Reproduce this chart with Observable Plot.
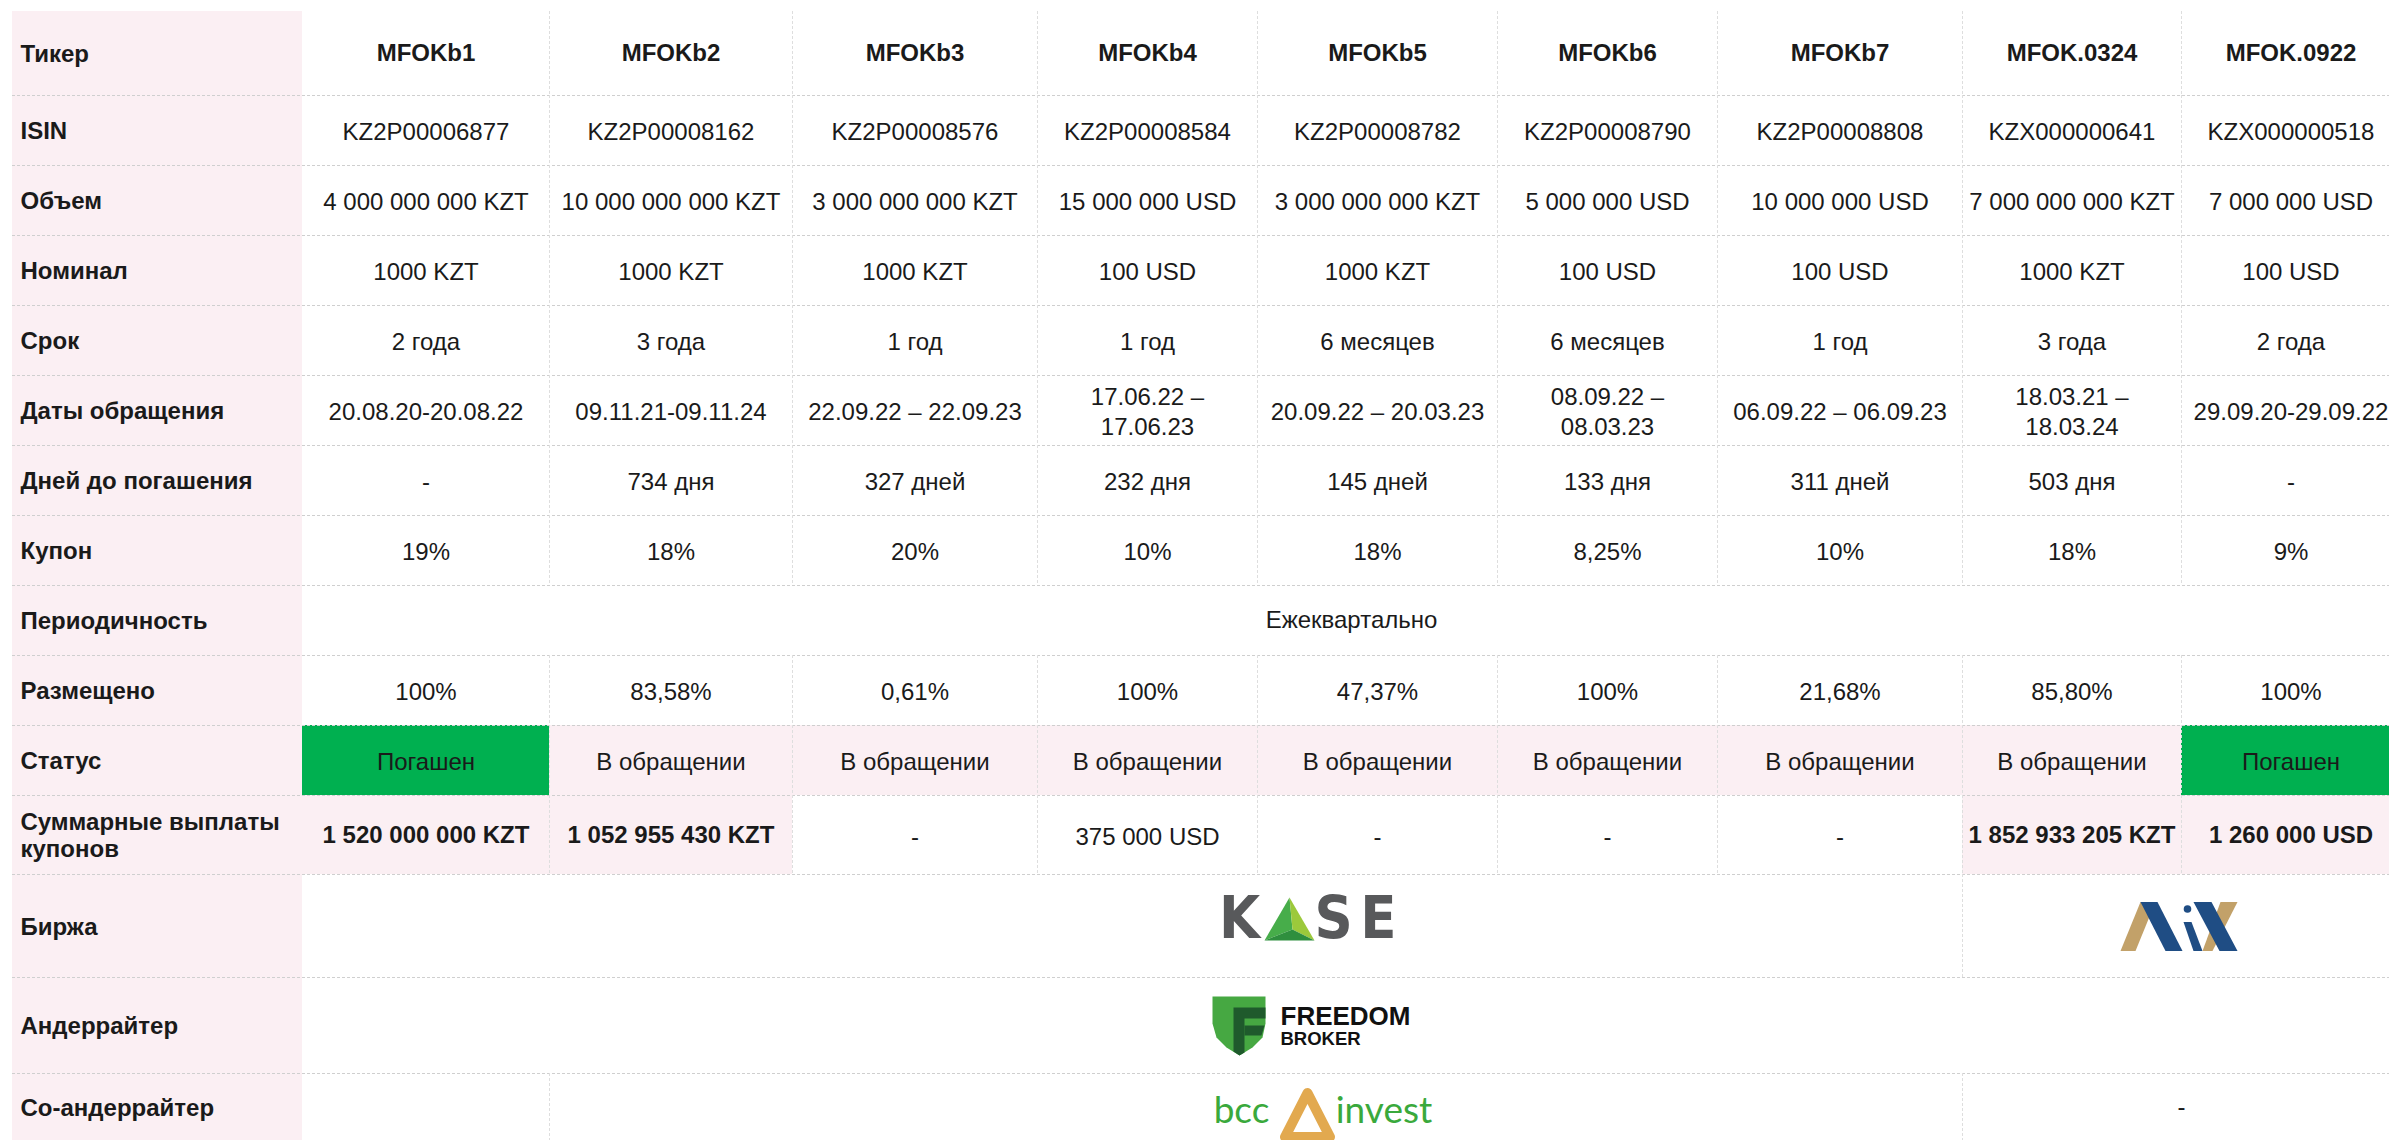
<!DOCTYPE html>
<html>
<head>
<meta charset="utf-8">
<script src="https://cdn.jsdelivr.net/npm/d3@7"></script>
<script src="https://cdn.jsdelivr.net/npm/@observablehq/plot@0.6"></script>
<style>
  html, body { margin: 0; padding: 0; background: #fff; overflow: hidden; }
  #chart svg { display: block; }
</style>
</head>
<body>
<div id="chart"></div>
<script>
// ---------------- DATA ----------------
const rowLabels = ["Тикер", "ISIN", "Объем", "Номинал", "Срок", "Даты обращения", "Дней до погашения",
  "Купон", "Периодичность", "Размещено", "Статус", "Суммарные выплаты\nкупонов", "Биржа", "Андеррайтер", "Со-андеррайтер"];
const tickers = ["MFOKb1", "MFOKb2", "MFOKb3", "MFOKb4", "MFOKb5", "MFOKb6", "MFOKb7", "MFOK.0324", "MFOK.0922"];
const isin = ["KZ2P00006877", "KZ2P00008162", "KZ2P00008576", "KZ2P00008584", "KZ2P00008782", "KZ2P00008790", "KZ2P00008808", "KZX000000641", "KZX000000518"];
const volume = ["4 000 000 000 KZT", "10 000 000 000 KZT", "3 000 000 000 KZT", "15 000 000 USD", "3 000 000 000 KZT", "5 000 000 USD", "10 000 000 USD", "7 000 000 000 KZT", "7 000 000 USD"];
const nominal = ["1000 KZT", "1000 KZT", "1000 KZT", "100 USD", "1000 KZT", "100 USD", "100 USD", "1000 KZT", "100 USD"];
const term = ["2 года", "3 года", "1 год", "1 год", "6 месяцев", "6 месяцев", "1 год", "3 года", "2 года"];
const circulationDates = ["20.08.20-20.08.22", "09.11.21-09.11.24", "22.09.22 – 22.09.23", "17.06.22 –\n17.06.23", "20.09.22 – 20.03.23", "08.09.22 –\n08.03.23", "06.09.22 – 06.09.23", "18.03.21 –\n18.03.24", "29.09.20-29.09.22"];
const daysToMaturity = ["-", "734 дня", "327 дней", "232 дня", "145 дней", "133 дня", "311 дней", "503 дня", "-"];
const coupon = ["19%", "18%", "20%", "10%", "18%", "8,25%", "10%", "18%", "9%"];
const periodicity = "Ежеквартально";
const placed = ["100%", "83,58%", "0,61%", "100%", "47,37%", "100%", "21,68%", "85,80%", "100%"];
const status = ["Погашен", "В обращении", "В обращении", "В обращении", "В обращении", "В обращении", "В обращении", "В обращении", "Погашен"];
const couponPaymentsTotal = ["1 520 000 000 KZT", "1 052 955 430 KZT", "-", "375 000 USD", "-", "-", "-", "1 852 933 205 KZT", "1 260 000 USD"];
const couponPaymentsHighlighted = [true, true, false, false, false, false, false, true, true];
const exchange = [{name: "KASE", first: 0, last: 6}, {name: "AIX", first: 7, last: 8}];
const underwriter = [{name: "Freedom Broker", first: 0, last: 8}];
const coUnderwriter = [{name: "", first: 0, last: 0}, {name: "bcc invest", first: 1, last: 6}, {name: "-", first: 7, last: 8}];

// ---------------- LAYOUT ----------------
const W = 2389, H = 1140;
const tableLeft = 12, tableTop = 11;
const labelColWidth = 290;
const dataColWidths = [247, 243, 245, 220, 240, 220, 245, 219, 219];
const rowHeights = [84, 70, 70, 70, 70, 70, 70, 70, 70, 70, 70, 79, 103, 96, 77];
const FS = 24;
const PINK = "#fbeff3", GREEN = "#00b050", INK = "#1a1a1a", GRID = "#cfcfcf";

const colEdges = [tableLeft, tableLeft + labelColWidth];
dataColWidths.forEach(w => colEdges.push(colEdges[colEdges.length - 1] + w));
const rowEdges = [tableTop];
rowHeights.forEach(h => rowEdges.push(rowEdges[rowEdges.length - 1] + h));
const colX1 = c => colEdges[c + 1], colX2 = c => colEdges[c + 2];
const colMid = c => (colX1(c) + colX2(c)) / 2;
const spanMid = (a, b) => (colX1(a) + colX2(b)) / 2;
const rowMid = r => (rowEdges[r] + Math.min(rowEdges[r + 1], H)) / 2;

// per-column rows
const perColumnRows = [
  {row: 0, values: tickers, weight: "bold"},
  {row: 1, values: isin},
  {row: 2, values: volume},
  {row: 3, values: nominal},
  {row: 4, values: term},
  {row: 5, values: circulationDates},
  {row: 6, values: daysToMaturity},
  {row: 7, values: coupon},
  {row: 9, values: placed},
  {row: 10, values: status},
  {row: 11, values: couponPaymentsTotal, weightOf: i => couponPaymentsHighlighted[i] ? "bold" : "normal"}
];
const cells = [];
perColumnRows.forEach(r => r.values.forEach((v, i) => cells.push({
  row: r.row, col: i, text: v,
  weight: r.weightOf ? r.weightOf(i) : (r.weight || "normal")
})));
const cellsBold = cells.filter(d => d.weight === "bold");
const cellsNormal = cells.filter(d => d.weight !== "bold");

// backgrounds
const bgCells = [];
status.forEach((s, i) => bgCells.push({row: 10, col: i, fill: s === "Погашен" ? GREEN : PINK}));
couponPaymentsHighlighted.forEach((h, i) => { if (h) bgCells.push({row: 11, col: i, fill: PINK}); });

// grid lines
const hLines = rowEdges.slice(1, rowEdges.length - 1).map(y => ({y}));
const vSegs = [];
const fullRows = [0, 1, 2, 3, 4, 5, 6, 7, 9, 10, 11];
fullRows.forEach(r => { for (let c = 1; c < dataColWidths.length; c++) vSegs.push({x: colX1(c), r}); });
exchange.slice(1).forEach(s => vSegs.push({x: colX1(s.first), r: 12}));
coUnderwriter.slice(1).forEach(s => vSegs.push({x: colX1(s.first), r: 14}));

// spanned text
const spanTexts = [{row: 8, first: 0, last: 8, text: periodicity}];
coUnderwriter.filter(s => s.name === "-").forEach(s => spanTexts.push({row: 14, first: s.first, last: s.last, text: s.name}));

// ---------------- LOGOS (shape geometry in local px) ----------------
const kaseSpan = exchange[0], aixSpan = exchange[1], ffSpan = underwriter[0], bccSpan = coUnderwriter[1];
const kaseC = {x: spanMid(kaseSpan.first, kaseSpan.last) + 178, y: rowMid(12) - 7};
const aixC = {x: spanMid(aixSpan.first, aixSpan.last) - 3, y: rowMid(12)};
const ffC = {x: spanMid(ffSpan.first, ffSpan.last) - 38, y: rowMid(13)};
const bccC = {x: spanMid(bccSpan.first, bccSpan.last) + 66, y: rowMid(14)};

function shapes(center, list) {
  const pts = [];
  list.forEach((s, k) => s.pts.forEach(p => pts.push({id: k, fill: s.fill, x: center.x + p[0], y: center.y + p[1]})));
  return pts;
}
function polys(center, list) {
  return list.map(s => Plot.line(shapes(center, [s]), {
    x: "x", y: "y", z: "id", fill: s.fill, stroke: s.stroke || "none",
    strokeWidth: s.sw || 0, strokeLinejoin: "round", curve: "linear-closed"
  }));
}
const kaseTriangle = [
  {fill: "#47ad4a", pts: [[-21, -21.5], [-46, 21.5], [-18, 10.5]]},
  {fill: "#9cc93b", pts: [[-21, -21.5], [-18, 10.5], [4, 21.5]]},
  {fill: "#2f8f3e", pts: [[-46, 21.5], [-18, 10.5], [4, 21.5]]}
];
const kaseLetters = [{t: "K", dx: -71}, {t: "S", dx: 23}, {t: "E", dx: 68}];
const aixShapes = [
  {fill: "#c2a169", pts: [[-58, 25], [-43, 25], [-23, -24], [-38, -24]]},
  {fill: "#1f4d84", pts: [[-38, -24], [-21, -24], [4, 25], [-13, 25]]},
  {fill: "#1f4d84", pts: [[5, -4], [13, -4], [24, 25], [15, 25]]},
  {fill: "#c2a169", pts: [[42, -24], [59, -24], [34, 25], [24, 25]]},
  {fill: "#1f4d84", pts: [[15, -24], [33, -24], [59, 25], [41, 25]]}
];
const ffShapes = [
  {fill: "#46a842", pts: [[-101, -29], [-48, -29], [-48, -2], [-51, 12], [-61, 22], [-74, 30], [-87, 22], [-97, 12], [-101, -2]]},
  {fill: "#1f5a2c", pts: [[-80, -18], [-48, -18], [-48, -7], [-69, -7], [-69, 27], [-74, 30], [-80, 26]]},
  {fill: "#1f5a2c", pts: [[-69, 0], [-49, 0], [-52, 10], [-69, 10]]}
];
const bccTriangle = [
  {fill: "none", stroke: "#e2a94f", sw: 10, pts: [[-14.5, -14], [-37, 30], [8, 30]]}
];

// ---------------- PLOT ----------------
const marks = [
  // label column background
  Plot.rect([0], {x1: () => colEdges[0], x2: () => colEdges[1], y1: () => rowEdges[0], y2: () => H, fill: PINK}),
  // cell backgrounds
  Plot.rect(bgCells, {x1: d => colX1(d.col), x2: d => colX2(d.col), y1: d => rowEdges[d.row], y2: d => rowEdges[d.row + 1], fill: d => d.fill}),
  // grid
  Plot.ruleY(hLines, {y: "y", x1: () => colEdges[0], x2: () => W + 20, stroke: GRID, strokeWidth: 1, strokeDasharray: "3,2"}),
  Plot.ruleX(vSegs, {x: "x", y1: d => rowEdges[d.r], y2: d => Math.min(rowEdges[d.r + 1], H), stroke: "#dedede", strokeWidth: 1, strokeDasharray: "3,2"}),
  // row labels
  Plot.text(rowLabels, {x: () => colEdges[0] + 8, y: (d, i) => rowMid(i), text: d => d, textAnchor: "start",
    fontWeight: "bold", fontSize: FS, lineHeight: 1.13, fill: INK}),
  // values
  Plot.text(cellsNormal, {x: d => colMid(d.col), y: d => rowMid(d.row), text: "text", fontSize: FS, lineHeight: 1.25, fill: INK}),
  Plot.text(cellsBold, {x: d => colMid(d.col), y: d => rowMid(d.row), text: "text", fontSize: FS, fontWeight: "bold", fill: INK}),
  Plot.text(spanTexts, {x: d => spanMid(d.first, d.last), y: d => rowMid(d.row), text: "text", fontSize: FS, fill: INK}),
  // KASE logo
  ...polys(kaseC, kaseTriangle),
  Plot.text(kaseLetters, {x: d => kaseC.x + d.dx, y: () => kaseC.y, text: "t", fontSize: 59, fontWeight: "bold",
    fontFamily: "'Liberation Sans Narrow', 'DejaVu Sans Condensed', sans-serif", fill: "#58595b"}),
  // AIX logo
  ...polys(aixC, aixShapes),
  Plot.dot([0], {x: () => aixC.x + 9, y: () => aixC.y - 17, r: 3.8, fill: "#1f4d84"}),
  // Freedom Broker logo
  ...polys(ffC, ffShapes),
  Plot.text([{t: "FREEDOM", dy: -9, fs: 26}, {t: "BROKER", dy: 13.5, fs: 18.5}], {
    x: () => ffC.x - 33, y: d => ffC.y + d.dy, text: "t", fontSize: d => d.fs, fontWeight: "bold",
    textAnchor: "start", fill: "#111"}),
  // bcc invest logo
  ...polys(bccC, bccTriangle),
  Plot.text([{t: "bcc", dx: -80.5}, {t: "invest", dx: 62}], {
    x: d => bccC.x + d.dx, y: () => bccC.y + 16, text: "t", fontSize: 37, lineAnchor: "bottom",
    fontFamily: "Lato, 'Open Sans', sans-serif", fill: "#3aa93c"})
];

const chart = Plot.plot({
  width: W, height: H, margin: 0,
  x: {type: "linear", domain: [0, W], range: [0, W], axis: null},
  y: {type: "linear", domain: [0, H], range: [0, H], axis: null},
  style: {fontFamily: "'Liberation Sans', Arial, sans-serif", background: "#fff", overflow: "hidden"},
  marks
});
document.getElementById("chart").appendChild(chart);
</script>
</body>
</html>
